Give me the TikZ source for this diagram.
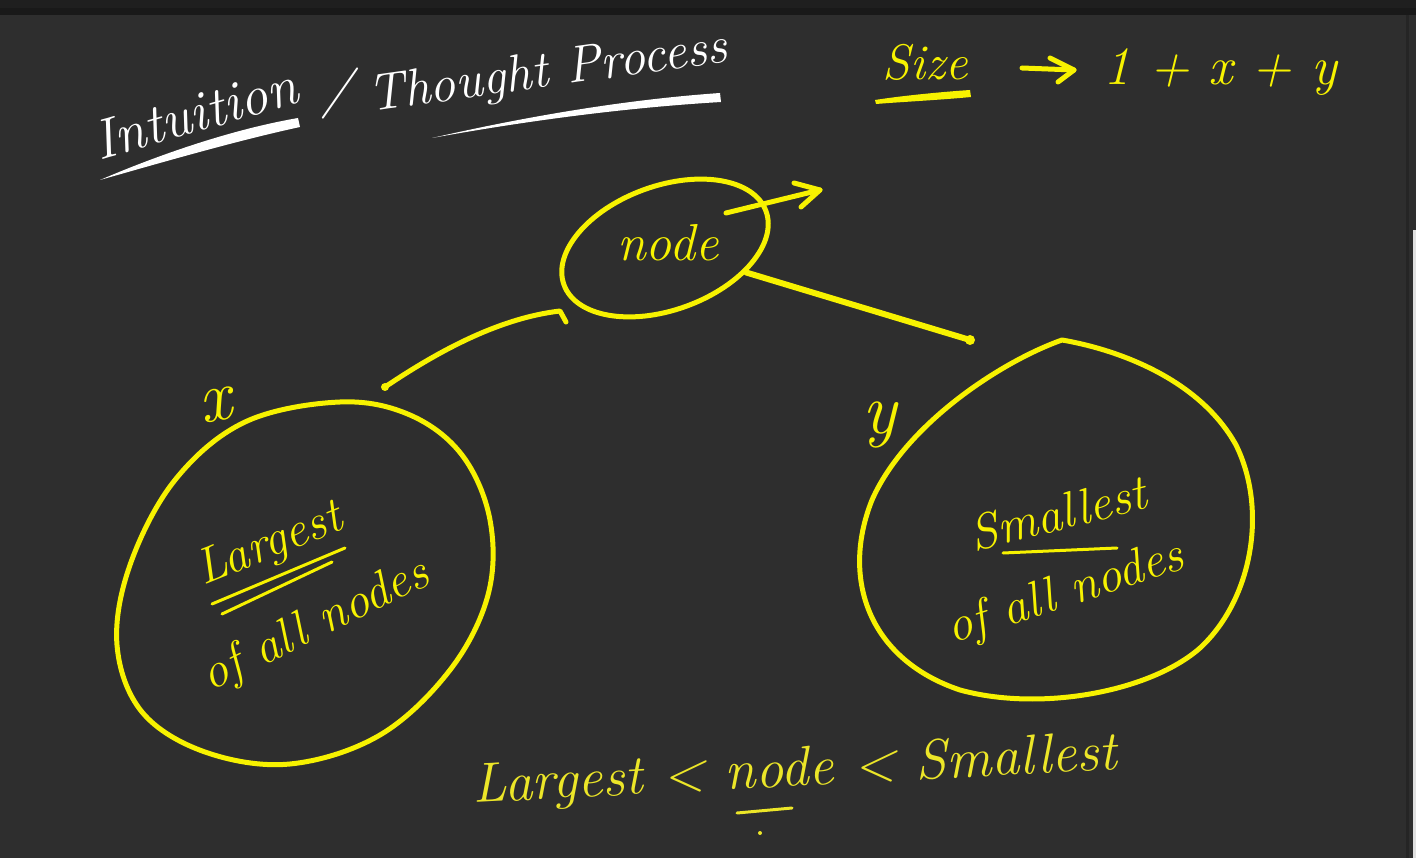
\documentclass[tikz,border=0pt]{standalone}
\usepackage{fontspec}
\usetikzlibrary{shapes.geometric,arrows.meta}
\definecolor{board}{HTML}{2E2E2E}
\definecolor{boardtop}{HTML}{1F1F1F}
\definecolor{ink}{HTML}{F7F200}
\definecolor{inksoft}{HTML}{ECE628}
\tikzset{
  hand/.style={font=\itshape\fontsize{#1}{#1}\selectfont, inner sep=0pt},
  ytext/.style={text=ink},
  wtext/.style={text=white},
  pen/.style={draw=ink, line width=5pt, line cap=round, line join=round},
  thinpen/.style={draw=ink, line width=3pt, line cap=round, line join=round},
}
\begin{document}
\begin{tikzpicture}[x=1pt,y=-1pt]
\useasboundingbox (0,0) rectangle (1416,858);
\fill[board] (0,0) rectangle (1416,858);
\fill[boardtop] (0,0) rectangle (1416,8);
\fill[black!45!board] (0,8) rectangle (1416,15);
\fill[black!20!board] (1406,15) rectangle (1409,858);
\fill[white!85!board] (1413,230) rectangle (1416,858);

% ---- title
\node[hand=56, wtext, rotate=16] (intu) at (195,113) {Intuition};
\node[hand=54, wtext, rotate=-5] (slash) at (337,93) {/};
\node[hand=52, wtext, rotate=8] (thought) at (548,74) {Thought Process};
\fill[white] (100,180) .. controls (170,150) and (240,128) .. (298,118)
  -- (300,127) .. controls (240,140) and (170,160) .. (100,180) -- cycle;
\fill[white] (432,138) .. controls (520,118) and (620,100) .. (720,93)
  -- (721,102) .. controls (620,108) and (520,122) .. (432,138) -- cycle;

% ---- size
\node[hand=50, ytext] (size) at (925,62) {Size};
\fill[ink] (875,100) .. controls (900,96) and (940,92) .. (970,90)
  -- (971,97) .. controls (940,100) and (900,102) .. (876,104) -- cycle;
\coordinate (sarrtail) at (1022,68);
\coordinate (sarrtip) at (1074,70);
\draw[pen] (sarrtail) -- (sarrtip);
\draw[pen] (1050,58) -- (sarrtip) -- (1058,82);
\node[hand=54, ytext, anchor=west] (formula) at (1103,72) {1 + x + y};

% ---- root node
\node[draw=ink, line width=5pt, ellipse, minimum width=215pt, minimum height=124pt, rotate=20] (nd) at (665,248) {};
\node[hand=52, ytext] (ndtext) at (668,243) {node};
\coordinate (astart) at (726,213);
\coordinate (arrtip) at (820,190);
\draw[pen] (astart) -- (arrtip);
\draw[pen] (794,183) -- (arrtip) -- (801,207);

% ---- left subtree
\draw[pen] plot[smooth cycle, tension=0.6] coordinates {
  (340,402) (410,415) (462,455) (490,520) (488,595) (450,670) (380,735)
  (290,764) (205,752) (142,712) (117,645) (130,565) (175,480) (245,422)};
\node[hand=72, ytext, rotate=10] (xlab) at (216,405) {x};
\node[hand=50, ytext, rotate=22] (largest) at (270,546) {Largest};
\draw[thinpen] (212,604) -- (345,548);
\draw[thinpen] (222,614) -- (332,562);
\node[hand=50, ytext, rotate=26] (ofallL) at (316,626) {of all nodes};
\coordinate (lt) at (385,387);
\fill[ink] (lt) circle (4pt);
\draw[pen] (lt) .. controls (440,350) and (500,318) .. (560,311) -- (566,322);

% ---- right subtree
\draw[pen] (1062,340) .. controls (1000,362) and (905,425) .. (872,500)
  .. controls (840,580) and (870,660) .. (960,690)
  .. controls (1040,712) and (1150,692) .. (1200,648)
  .. controls (1252,600) and (1268,510) .. (1236,445)
  .. controls (1200,380) and (1120,350) .. cycle;
\node[hand=72, ytext] (ylab) at (880,425) {y};
\node[hand=50, ytext, rotate=14] (smallest) at (1058,513) {Smallest};
\draw[thinpen] (1003,553) -- (1117,548);
\node[hand=50, ytext, rotate=18] (ofallR) at (1066,594) {of all nodes};
\coordinate (rt) at (970,340);
\draw[pen, line width=6pt] (nd) -- (rt);
\fill[ink] (rt) circle (5pt);

% ---- bottom relation
\node[hand=56, text=inksoft, rotate=3] (rel) at (795,772) {Largest < node < Smallest};
\draw[draw=inksoft, line width=3pt, line cap=round] (737,813) -- (792,808);
\fill[inksoft] (760,833) circle (2pt);
\end{tikzpicture}
\end{document}
